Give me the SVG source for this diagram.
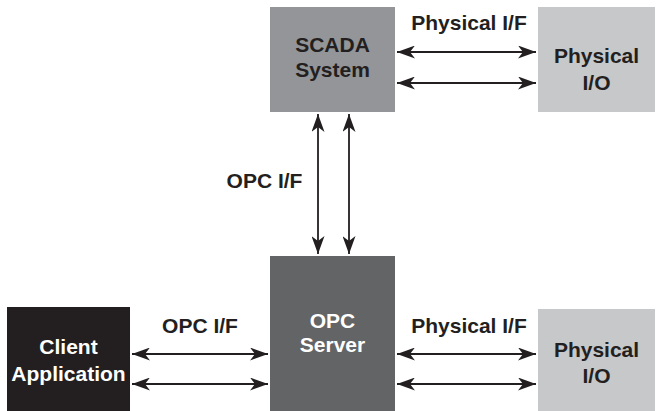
<svg xmlns="http://www.w3.org/2000/svg" width="657" height="411" viewBox="0 0 657 411">
<style>
text{font-family:"Liberation Sans",Arial,sans-serif;font-weight:bold;font-size:21px;text-anchor:middle;fill:#231f20}
.w{fill:#ffffff}
.c{stroke:#231f20;stroke-width:1.8;fill:none;marker-start:url(#ah);marker-end:url(#ah)}
</style>
<defs>
<marker id="ah" markerUnits="userSpaceOnUse" viewBox="0 0 18 13" refX="18" refY="6.5" markerWidth="18" markerHeight="13" orient="auto-start-reverse">
<path d="M0,0 L18,6.5 L0,13 L5,6.5 Z" fill="#231f20"/>
</marker>
</defs>
<rect width="657" height="411" fill="#ffffff"/>
<g id="scada">
<rect x="270" y="7" width="125" height="105" fill="#939598"/>
<text x="332.5" y="52">SCADA</text>
<text x="332.5" y="77">System</text>
</g>
<g id="physical-io-top">
<rect x="538" y="7" width="117" height="105" fill="#c7c8ca"/>
<text x="596.5" y="63">Physical</text>
<text x="596.5" y="90">I/O</text>
</g>
<g id="opc-server">
<rect x="270" y="256" width="125" height="155" fill="#636466"/>
<text class="w" x="332.5" y="328">OPC</text>
<text class="w" x="332.5" y="352">Server</text>
</g>
<g id="client">
<rect x="7" y="307" width="123" height="104" fill="#231f20"/>
<text class="w" x="68.5" y="354">Client</text>
<text class="w" x="68.5" y="381">Application</text>
</g>
<g id="physical-io-bottom">
<rect x="538" y="309" width="117" height="102" fill="#c7c8ca"/>
<text x="596.5" y="357">Physical</text>
<text x="596.5" y="383">I/O</text>
</g>
<g id="connectors">
<line class="c" x1="397" y1="52" x2="536" y2="52"/>
<line class="c" x1="397" y1="83" x2="536" y2="83"/>
<line class="c" x1="318" y1="114" x2="318" y2="254"/>
<line class="c" x1="349" y1="114" x2="349" y2="254"/>
<line class="c" x1="132" y1="354" x2="268" y2="354"/>
<line class="c" x1="132" y1="384" x2="268" y2="384"/>
<line class="c" x1="397" y1="354" x2="536" y2="354"/>
<line class="c" x1="397" y1="384" x2="536" y2="384"/>
</g>
<g id="labels">
<text x="469" y="30">Physical I/F</text>
<text x="264.5" y="188">OPC I/F</text>
<text x="200" y="333">OPC I/F</text>
<text x="469" y="333">Physical I/F</text>
</g>
</svg>
